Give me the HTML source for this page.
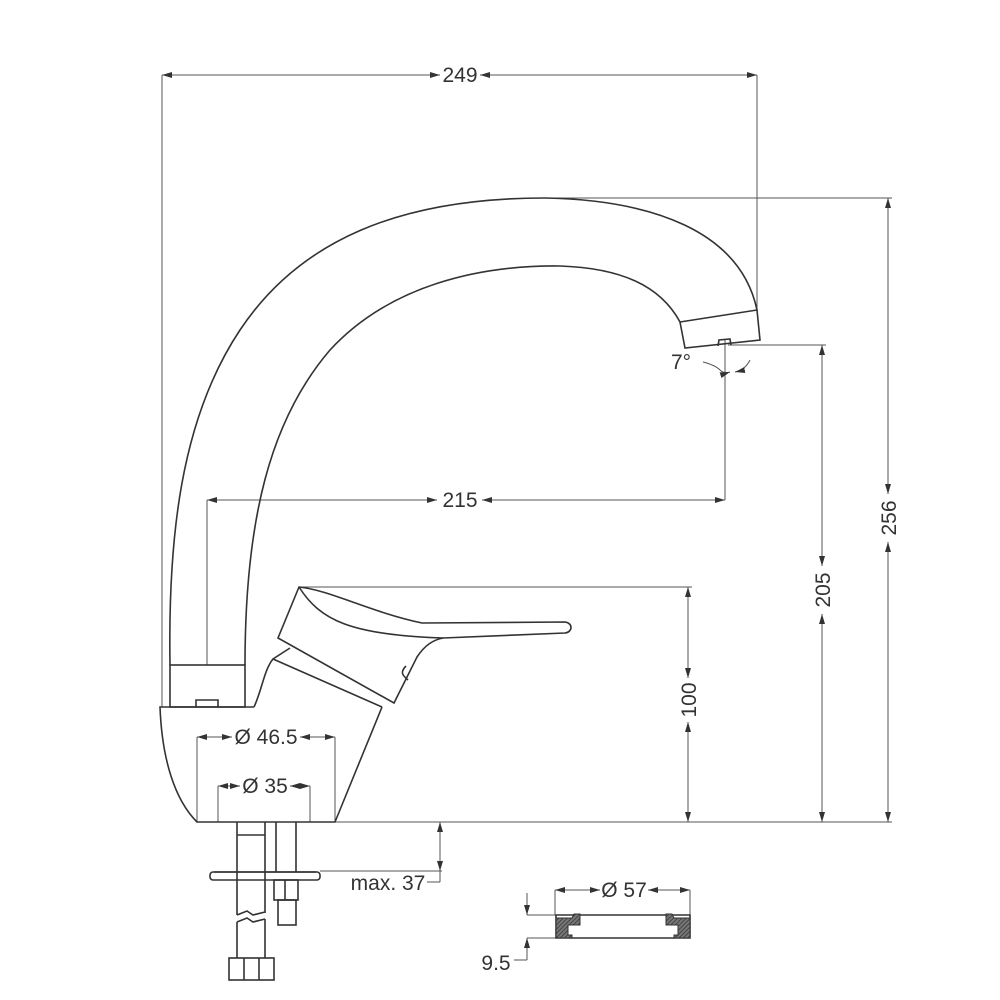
<!DOCTYPE html>
<html><head><style>body{margin:0;background:#fff}svg{display:block}text{font-family:"Liberation Sans Narrow","Liberation Sans",sans-serif;font-size:21px;fill:#333}</style></head><body>
<svg width="1000" height="1000" viewBox="0 0 1000 1000">
<defs>
<marker id="a" viewBox="0 0 10 6" refX="10" refY="3" markerWidth="10" markerHeight="6" orient="auto-start-reverse"><path d="M0 0L10 3L0 6z" fill="#333"/></marker>
<pattern id="h" width="3" height="3" patternUnits="userSpaceOnUse" patternTransform="rotate(45)"><rect width="3" height="3" fill="#777"/><line x1="0" y1="0" x2="0" y2="3" stroke="#333" stroke-width="1.5"/></pattern>
</defs>
<g fill="none" stroke="#555" stroke-width="1">
<!-- extension lines -->
<line x1="162" y1="75" x2="162" y2="707"/>
<line x1="757" y1="75" x2="757" y2="312"/>
<line x1="207" y1="500" x2="207" y2="665"/>
<line x1="725" y1="340" x2="725" y2="500"/>
<line x1="545" y1="198" x2="892" y2="198"/>
<line x1="728" y1="345" x2="826" y2="345"/>
<line x1="299" y1="587" x2="692" y2="587"/>
<line x1="335" y1="822" x2="892" y2="822"/>
<line x1="197" y1="737" x2="197" y2="822"/>
<line x1="335" y1="737" x2="335" y2="822"/>
<line x1="218" y1="786" x2="218" y2="822"/>
<line x1="310" y1="786" x2="310" y2="822"/>
<line x1="320" y1="871" x2="442" y2="871"/>
<line x1="427" y1="882" x2="440" y2="882"/><line x1="440" y1="871" x2="440" y2="882"/>
<line x1="527" y1="915" x2="556" y2="915"/>
<line x1="527" y1="938" x2="556" y2="938"/>
<line x1="514" y1="960" x2="527" y2="960"/><line x1="527" y1="938" x2="527" y2="960"/>
<line x1="555" y1="890" x2="555" y2="915"/>
<line x1="690" y1="890" x2="690" y2="915"/>
<!-- dim lines -->
<g marker-start="url(#a)" marker-end="url(#a)">
<line x1="162" y1="75" x2="440" y2="75"/><line x1="480" y1="75" x2="757" y2="75"/>
<line x1="207" y1="500" x2="437" y2="500"/><line x1="482" y1="500" x2="725" y2="500"/>
<line x1="888" y1="198" x2="888" y2="494"/><line x1="888" y1="542" x2="888" y2="822"/>
<line x1="822" y1="345" x2="822" y2="566"/><line x1="822" y1="614" x2="822" y2="822"/>
<line x1="688" y1="587" x2="688" y2="678"/><line x1="688" y1="722" x2="688" y2="822"/>
<line x1="197" y1="737" x2="232" y2="737"/><line x1="300" y1="737" x2="335" y2="737"/>
<line x1="218" y1="786" x2="240" y2="786"/><line x1="290" y1="786" x2="310" y2="786"/>
<line x1="440" y1="822" x2="440" y2="871"/>
<line x1="555" y1="890" x2="600" y2="890"/><line x1="648" y1="890" x2="690" y2="890"/>
</g>
<line x1="527" y1="893" x2="527" y2="915" marker-end="url(#a)"/>
<line x1="527" y1="960" x2="527" y2="938" marker-end="url(#a)"/>
<path d="M703 362 Q715 365 720 370 Q724 374 730 372" marker-end="url(#a)"/>
<path d="M750 360 Q745 370 735 372" marker-end="url(#a)"/>
</g>
<g fill="none" stroke="#333" stroke-width="1.6">
<!-- spout -->
<path d="M170 665 C168 540 180 420 240 330 C300 240 400 198 545 198 C650 200 740 230 757 310"/>
<path d="M245 665 C245 520 270 420 330 350 C390 285 480 265 560 266 C620 268 660 285 680 322"/>
<path d="M680 322 L757 310 L760 340 L685 348 Z"/>
<path d="M718 346 L719 340 L730 339 L731 345"/>
<rect x="170" y="665" width="75" height="42"/>
<path d="M196 707 V700 H218 V707"/>
<!-- base -->
<path d="M254 707 L160 707 C162 760 175 800 197 822 L335 822 L382 707"/>
<path d="M254 707 C262 690 264 670 273 659 L290 648"/>
<path d="M273 659 L382 707"/>
<!-- lever -->
<path d="M299 587 L278 638 L394 703 L417 657 C425 645 433 640 443 638 L565 633 C573 632 573 623 565 622 L422 623 C370 612 330 590 299 587 Z"/>
<path d="M299 587 C320 620 350 635 443 638"/>
<path d="M408 680 C402 675 400 672 406 666"/>
<!-- pipes -->
<path d="M237 822 V915 M265 822 V913"/>
<path d="M237 915 L247 911 L253 915 L265 912"/>
<path d="M237 922 L247 918 L253 922 L265 919"/>
<path d="M237 922 V958 M265 919 V958"/>
<line x1="237" y1="835" x2="265" y2="835"/>
<rect x="229" y="958" width="45" height="22"/>
<line x1="244" y1="958" x2="244" y2="980"/><line x1="259" y1="958" x2="259" y2="980"/>
<path d="M276 822 V872 M296 822 V872"/>
<rect x="274" y="880" width="24" height="20"/>
<rect x="278" y="900" width="18" height="25"/>
<line x1="285" y1="880" x2="285" y2="900"/>
<rect x="210" y="872" width="110" height="8" rx="3"/>
<line x1="214" y1="872" x2="316" y2="872"/>
<!-- ring -->
<path d="M556 915 H690 V938 H556 Z"/>
</g>
<path d="M556 918 L572 918 L574 914 L580 914 L580 925 L568 925 L568 935 L572 935 L572 938 L556 938Z" fill="url(#h)" stroke="#333"/>
<path d="M690 918 L674 918 L672 914 L666 914 L666 925 L678 925 L678 935 L674 935 L674 938 L690 938Z" fill="url(#h)" stroke="#333"/>
<text x="460" y="82" text-anchor="middle">249</text>
<text x="460" y="507" text-anchor="middle">215</text>
<text transform="translate(896 518) rotate(-90)" text-anchor="middle">256</text>
<text transform="translate(830 590) rotate(-90)" text-anchor="middle">205</text>
<text transform="translate(696 700) rotate(-90)" text-anchor="middle">100</text>
<text x="266" y="744" text-anchor="middle">Ø 46.5</text>
<text x="265" y="793" text-anchor="middle">Ø 35</text>
<text x="388" y="890" text-anchor="middle">max. 37</text>
<text x="624" y="897" text-anchor="middle">Ø 57</text>
<text x="496" y="970" text-anchor="middle">9.5</text>
<text x="681" y="369" text-anchor="middle">7°</text>
</svg>
</body></html>
